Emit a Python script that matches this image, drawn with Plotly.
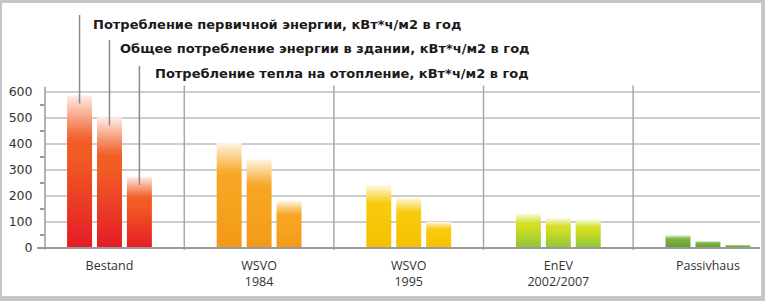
import plotly.graph_objects as go

# ---------------- data ----------------
CATEGORIES = ["Bestand", "WSVO<br>1984", "WSVO<br>1995", "EnEV<br>2002/2007", "Passivhaus"]
SERIES_NAMES = [
    "Потребление первичной энергии, кВт*ч/м2 в год",
    "Общее потребление энергии в здании, кВт*ч/м2 в год",
    "Потребление тепла на отопление, кВт*ч/м2 в год",
]
PRIMARY = [588, 405, 242, 133, 50]
TOTAL = [503, 341, 193, 116, 27]
HEATING = [274, 182, 101, 110, 12]
Y_TICKS = [0, 100, 200, 300, 400, 500, 600]

# ---------------- style ----------------
GROUP_BOTTOM = ["#e41b25", "#f39a17", "#f6c000", "#8dc43c", "#5f9b30"]
GROUP_TOP = ["#f15c24", "#f7a623", "#f9c90c", "#d2de22", "#7cb23e"]
W, H = 765, 301
ML, MR, MT, MB = 45, 5, 82, 49
YMIN, YMAX = -15.4, 638.5
XMIN, XMAX = -0.431, 4.348
BAR_W = 0.167
BAR_SHIFT = [-0.2, 0.0, 0.2]
GRID = "#cdcdcd"
AXIS = "#9a9a9a"


def hex_rgb(h):
    h = h.lstrip("#")
    return [int(h[i:i + 2], 16) for i in (0, 2, 4)]


def mix(a, b, t):
    return [a[i] + (b[i] - a[i]) * t for i in range(3)]


def grad_color(g, f):
    base = mix(hex_rgb(GROUP_BOTTOM[g]), hex_rgb(GROUP_TOP[g]), min(f / 0.6, 1.0))
    if f > 0.7:
        t = (f - 0.7) / 0.3
        base = mix(base, [255, 255, 255], 0.9 * t ** 1.1)
    return "rgb(%d,%d,%d)" % tuple(round(c) for c in base)


def colorscale(g, n=24):
    return [[k / n, grad_color(g, k / n)] for k in range(n + 1)]


def px_x(p):
    return (p - ML) / (W - ML - MR)


def px_y(p):
    return (H - MB - p) / (H - MT - MB)


def dx(c):
    return (c - XMIN) / (XMAX - XMIN)


def dy(v):
    return (v - YMIN) / (YMAX - YMIN)


fig = go.Figure()
series = [PRIMARY, TOTAL, HEATING]
for s, vals in enumerate(series):
    for g, v in enumerate(vals):
        left = g + BAR_SHIFT[s] - BAR_W / 2
        right = g + BAR_SHIFT[s] + BAR_W / 2
        fig.add_trace(go.Scatter(
            x=[left, right, right, left, left], y=[0, 0, v, v, 0],
            mode="lines", line=dict(width=0), fill="toself",
            fillgradient=dict(type="vertical", colorscale=colorscale(g), start=0, stop=v),
            name=SERIES_NAMES[s], showlegend=False, hoverinfo="skip",
        ))

shapes = []
# group separators
for i in range(len(CATEGORIES) - 1):
    shapes.append(dict(type="line", xref="x", yref="y", x0=i + 0.5, x1=i + 0.5,
                       y0=-8, y1=625, line=dict(color="#a8a8a8", width=1.5)))
# y axis line
shapes.append(dict(type="line", xref="paper", yref="paper", x0=0, x1=0,
                   y0=dy(-6), y1=dy(620), line=dict(color=AXIS, width=1.5)))
# x axis line
shapes.append(dict(type="line", xref="paper", yref="paper", x0=px_x(37), x1=1,
                   y0=dy(0), y1=dy(0), line=dict(color=AXIS, width=2)))
# leader lines to series labels
LEADER_TOP_PX = [15, 40, 66]
LEADER_DROP = 32
for s, vals in enumerate(series):
    xc = dx(0 + BAR_SHIFT[s])
    shapes.append(dict(type="line", xref="paper", yref="paper", x0=xc, x1=xc,
                       y0=dy(vals[0] - LEADER_DROP), y1=px_y(LEADER_TOP_PX[s]),
                       line=dict(color="#8a8a8a", width=1.5)))
# outer frame
FR = "#c6c6c6"
shapes += [
    dict(type="line", xref="paper", yref="paper", x0=px_x(0), x1=px_x(W), y0=px_y(1.5), y1=px_y(1.5), line=dict(color=FR, width=3)),
    dict(type="line", xref="paper", yref="paper", x0=px_x(1), x1=px_x(1), y0=px_y(0), y1=px_y(H), line=dict(color=FR, width=2)),
    dict(type="line", xref="paper", yref="paper", x0=px_x(763), x1=px_x(763), y0=px_y(0), y1=px_y(H), line=dict(color=FR, width=4)),
    dict(type="line", xref="paper", yref="paper", x0=px_x(0), x1=px_x(W), y0=px_y(298.5), y1=px_y(298.5), line=dict(color=FR, width=5)),
]

annotations = []
LABEL_X_PX = [91, 118, 153]
LABEL_Y_PX = [24, 48, 73]
for s, name in enumerate(SERIES_NAMES):
    annotations.append(dict(
        text=name, xref="paper", yref="paper", x=px_x(LABEL_X_PX[s]), y=px_y(LABEL_Y_PX[s]),
        xanchor="left", yanchor="middle", showarrow=False,
        font=dict(family="DejaVu Sans", size=13, color="#1a1a1a", weight="bold"),
    ))

fig.update_layout(
    width=W, height=H,
    margin=dict(l=ML, r=MR, t=MT, b=MB, pad=0),
    paper_bgcolor="white", plot_bgcolor="white",
    shapes=shapes, annotations=annotations,
    xaxis=dict(range=[XMIN, XMAX], tickvals=list(range(len(CATEGORIES))), ticktext=CATEGORIES,
               showgrid=False, zeroline=False, showline=False, ticks="", ticklabelstandoff=4,
               tickfont=dict(family="Open Sans", size=12.5, color="#333333")),
    yaxis=dict(range=[YMIN, YMAX], tickvals=Y_TICKS, showgrid=True, gridcolor=GRID, gridwidth=1.5,
               zeroline=False, showline=False, ticks="outside", ticklen=9,
               tickcolor="rgba(0,0,0,0)",
               minor=dict(tickvals=[50, 150, 250, 350, 450, 550], ticks="outside", ticklen=4,
                          tickcolor=AXIS, tickwidth=1.5, showgrid=False),
               tickfont=dict(family="DejaVu Sans", size=12.5, color="#333333")),
)

fig.write_html("out.html")
